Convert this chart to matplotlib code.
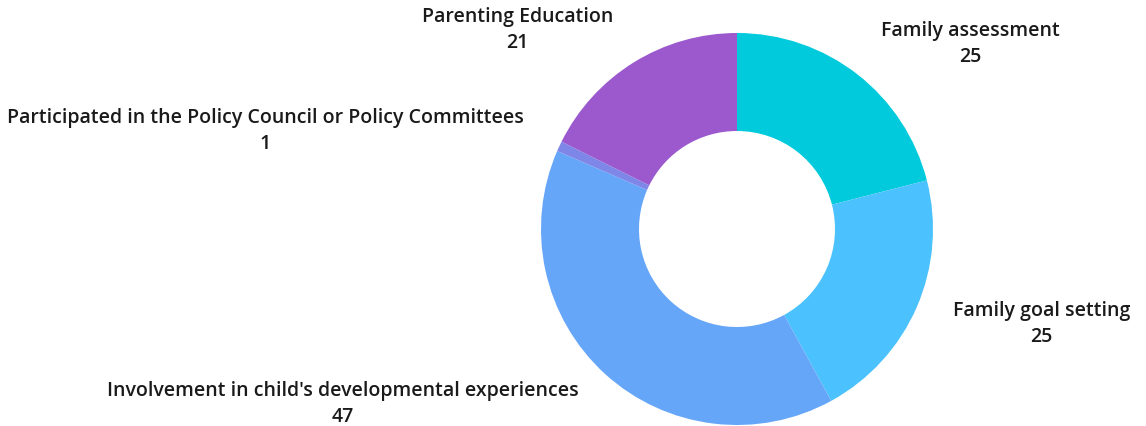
import matplotlib.pyplot as plt

#%% data
categorias = ["Family assessment", "Family goal setting",
              "Involvement in child's developmental experiences",
              "Participated in the Policy Council or Policy Committees",
              "Parenting Education"]
valores = [25, 25, 47, 1, 21]
colores = ["#00CADC", "#4BC2FD", "#66A6F9", "#7E86E8", "#9B59CD"]

plt.rcParams['font.family'] = ['Open Sans', 'DejaVu Sans']

#%% figure
fig = plt.figure(figsize=(11.46, 4.27), dpi=100)
W, H = 1146, 427
cx, cy, r = 737, 427 - 230, 196
ax = fig.add_axes([(cx - r) / W, (cy - r) / H, 2 * r / W, 2 * r / H])

etiquetas = [f"{c}\n{v}" for c, v in zip(categorias, valores)]
ax.pie(valores, labels=etiquetas, colors=colores, startangle=90,
       counterclock=False, radius=1, labeldistance=1.2,
       wedgeprops=dict(width=0.5, linewidth=0),
       textprops=dict(fontsize=14.0, color="#1a1a1a", linespacing=1.4,
                      weight='semibold', multialignment='center'))
ax.set_xlim(-1, 1)
ax.set_ylim(-1, 1)
ax.set_aspect('equal')
ax.axis('off')

fig.savefig("out.png", dpi=100)
